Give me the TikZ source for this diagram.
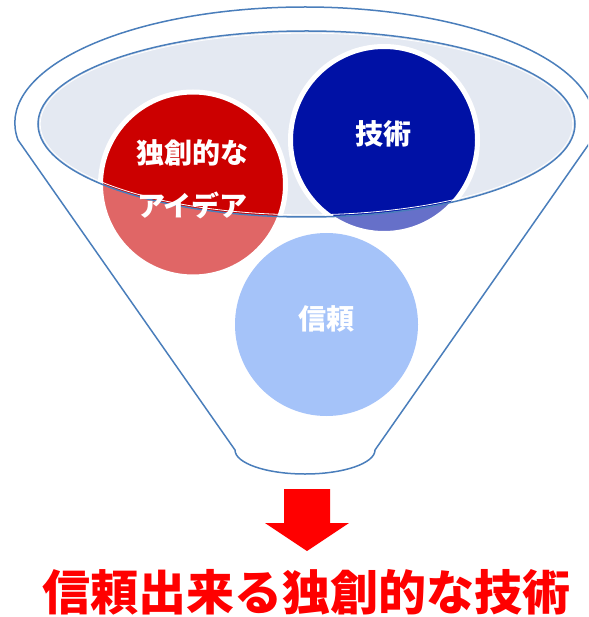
\documentclass[tikz,border=0pt]{standalone}
\usepackage{fontspec}
\newfontfamily\jp{Noto Sans CJK JP}
\definecolor{cred}{RGB}{204,0,0}
\definecolor{cblue}{RGB}{0,17,165}
\definecolor{clight}{RGB}{105,155,245}
\definecolor{ell}{RGB}{228,233,242}
\definecolor{rim}{RGB}{74,126,187}
\definecolor{tred}{RGB}{255,0,0}
\tikzset{
  bub/.style={circle, inner sep=0pt, draw=white, line width=5pt},
  ctext/.style={text=white, font=\jp\bfseries\fontsize{28pt}{30pt}\selectfont, inner sep=0pt},
  rimline/.style={draw=rim, line width=1.5pt},
}
\begin{document}
\begin{tikzpicture}[x=1pt,y=-1pt]
\useasboundingbox (0,0) rectangle (588,617);
\clip (0,0) rectangle (588,617);
% inner ellipse fill
\fill[ell] (306.5,124) ellipse[x radius=268.5, y radius=93];
% circles
\node[bub, fill=cred, minimum size=185pt] (idea) at (193,184.5) {};
\node[bub, fill=cblue, minimum size=187pt] (tech) at (384,140) {};
\node[circle, inner sep=0pt, fill=clight, minimum size=183pt] (trust) at (326.5,324.5) {};
% funnel body overlay
\fill[white, fill opacity=0.4, even odd rule]
  (18,140) arc[start angle=171.57, end angle=368.43, x radius=290, y radius=116]
  -- (375,450) arc[start angle=0, end angle=180, x radius=70, y radius=24] -- cycle
  (306.5,124) ellipse[x radius=268.5, y radius=93];
% outlines
\draw[rimline, line join=round]
  (18,140) arc[start angle=171.57, end angle=368.43, x radius=290, y radius=116]
  -- (375,450) arc[start angle=0, end angle=180, x radius=70, y radius=24] -- cycle;
\draw[white, line width=0.8pt] (306.5,124) ellipse[x radius=266.3, y radius=90.8];
\draw[rimline] (306.5,124) ellipse[x radius=268.5, y radius=93];
% circle texts
\node[ctext] (t1) at (192,153) {独創的な};
\node[ctext] (t2) at (192.5,205.5) {アイデア};
\node[ctext] (t3) at (383.5,134) {技術};
\node[ctext] (t4) at (326.5,319) {信頼};
% arrow
\fill[tred] (284,489) -- (330,489) -- (330,523) -- (349,523) -- (307,551) -- (265,523) -- (284,523) -- cycle;
% result text
\node[text=tred, font=\jp\bfseries\fontsize{48pt}{50pt}\selectfont, inner sep=0pt] (res) at (306,592) {信頼出来る独創的な技術};
\end{tikzpicture}
\end{document}
